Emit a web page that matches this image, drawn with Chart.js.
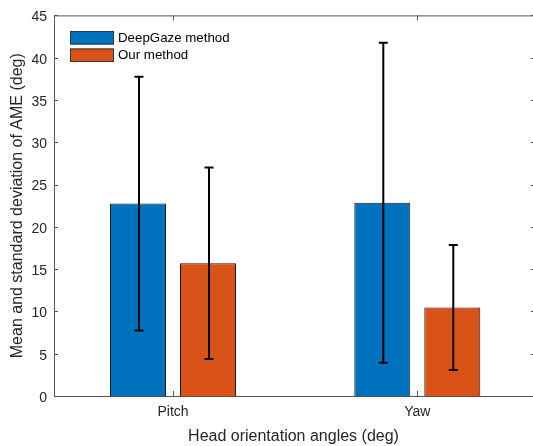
<!DOCTYPE html>
<html>
<head>
<meta charset="utf-8">
<script src="https://cdn.jsdelivr.net/npm/chart.js@4"></script>
<style>
  body { margin: 0; background: #fff; }
  #wrap { width: 533px; height: 446px; }
</style>
</head>
<body>
<div id="wrap"><canvas id="myChart"></canvas></div>
<script>
var categories = ['Pitch', 'Yaw']
var deepGazeMean = [22.75, 22.85]
var deepGazeStd = [15.0, 18.93]
var ourMean = [15.7, 10.46]
var ourStd = [11.32, 7.39]
var yTicks = [0, 5, 10, 15, 20, 25, 30, 35, 40, 45]

var FONT = '"Liberation Sans", Arial, Helvetica, sans-serif'
var AXIS = '#555555'
var TEXT = '#262626'

function points(vals) {
  return vals.map(function (v, i) { return { x: i + 1, y: v } })
}

// error bars, drawn from the dataset's std array
var errorBars = {
  id: 'errorBars',
  afterDatasetsDraw: function (chart) {
    var c = chart.ctx
    var ys = chart.scales.y
    c.save()
    c.strokeStyle = '#000'
    c.lineWidth = 2
    chart.data.datasets.forEach(function (ds, di) {
      var meta = chart.getDatasetMeta(di)
      meta.data.forEach(function (bar, i) {
        var m = ds.data[i].y, s = ds.std[i]
        var x = bar.x + 1
        var top = ys.getPixelForValue(m + s)
        var bot = ys.getPixelForValue(m - s)
        c.beginPath()
        c.moveTo(x, top); c.lineTo(x, bot)
        c.moveTo(x - 4.5, top); c.lineTo(x + 4.5, top)
        c.moveTo(x - 4.5, bot); c.lineTo(x + 4.5, bot)
        c.stroke()
      })
    })
    c.restore()
  }
}

// box frame + inward ticks, matlab style
var frame = {
  id: 'frame',
  afterDraw: function (chart) {
    var c = chart.ctx
    var a = chart.chartArea
    var xs = chart.scales.x, ys = chart.scales.y
    c.save()
    c.strokeStyle = AXIS
    c.lineWidth = 1
    c.beginPath()
    c.moveTo(a.left, a.top + 0.5); c.lineTo(a.right, a.top + 0.5)
    xs.ticks.forEach(function (t) {
      var px = Math.round(xs.getPixelForValue(t.value)) + 0.5
      c.moveTo(px, a.bottom); c.lineTo(px, a.bottom - 5)
      c.moveTo(px, a.top); c.lineTo(px, a.top + 5)
    })
    yTicks.forEach(function (v) {
      var py = Math.round(ys.getPixelForValue(v)) + 0.5
      c.moveTo(a.right, py); c.lineTo(a.right - 2, py)
      c.moveTo(a.left, py); c.lineTo(a.left + 4, py)
    })
    c.stroke()

    // legend
    c.font = '13.3px ' + FONT
    c.textBaseline = 'middle'
    c.textAlign = 'left'
    chart.data.datasets.forEach(function (ds, i) {
      var y0 = 31 + i * 17.5
      c.fillStyle = ds.backgroundColor
      c.fillRect(70, y0, 44, 13.5)
      c.strokeStyle = '#333'
      c.strokeRect(70.5, y0 + 0.5, 43, 12.5)
      c.fillStyle = '#000'
      c.fillText(ds.label, 118, y0 + 7)
    })
    c.restore()
  }
}

var ctx = document.getElementById('myChart')

var chart = new Chart(ctx, {
  type: 'bar',
  data: {
    datasets: [{
      label: 'DeepGaze method',
      data: points(deepGazeMean),
      std: deepGazeStd,
      backgroundColor: '#0072BD',
      borderColor: '#1a1a1a',
      borderWidth: 1
    }, {
      label: 'Our method',
      data: points(ourMean),
      std: ourStd,
      backgroundColor: '#D95319',
      borderColor: '#1a1a1a',
      borderWidth: 1
    }]
  },
  options: {
    responsive: true,
    maintainAspectRatio: false,
    animation: false,
    categoryPercentage: 0.573,
    barPercentage: 0.8,
    layout: { padding: { top: 15, left: 0, right: 0, bottom: 0 } },
    plugins: { legend: { display: false }, tooltip: { enabled: false } },
    scales: {
      x: {
        type: 'linear',
        min: 0.5129,
        max: 2.4736,
        offset: false,
        bounds: 'data',
        afterBuildTicks: function (s) {
          s.ticks = categories.map(function (c, i) { return { value: i + 1 } })
        },
        afterFit: function (s) { s.height = 50 },
        grid: { display: false, drawTicks: false },
        border: { display: true, color: AXIS, width: 1 },
        ticks: {
          autoSkip: false,
          maxRotation: 0,
          padding: 8,
          color: TEXT,
          font: { family: FONT, size: 14 },
          callback: function (v) { return categories[Math.round(v) - 1] }
        },
        title: {
          display: true,
          text: 'Head orientation angles (deg)',
          color: TEXT,
          font: { family: FONT, size: 16 },
          padding: { top: 0, bottom: 0 }
        }
      },
      y: {
        min: 0,
        max: 45,
        afterFit: function (s) { s.width = 54 },
        grid: { display: false, drawTicks: false },
        border: { display: true, color: AXIS, width: 1 },
        ticks: {
          stepSize: 5,
          padding: 7,
          labelOffset: 2,
          color: TEXT,
          font: { family: FONT, size: 14 }
        },
        title: {
          display: true,
          text: 'Mean and standard deviation of AME (deg)',
          color: TEXT,
          font: { family: FONT, size: 16 },
          padding: { top: 7.5, bottom: 0 }
        }
      }
    }
  },
  plugins: [errorBars, frame]
})
</script>
</body>
</html>
